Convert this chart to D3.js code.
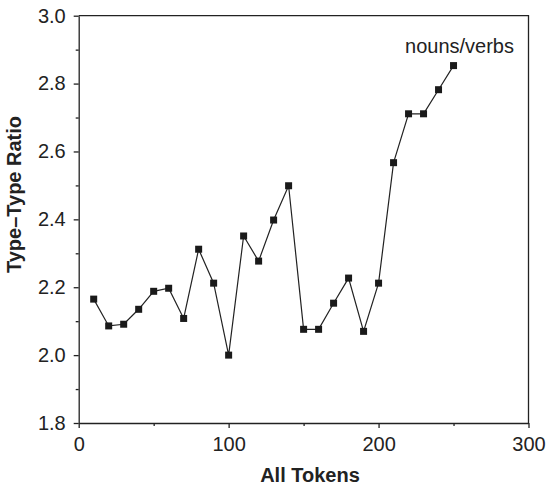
<!DOCTYPE html>
<html>
<head>
<meta charset="utf-8">
<script src="https://cdn.jsdelivr.net/npm/d3@7"></script>
<style>
  html, body { margin: 0; padding: 0; background: #fff; }
  svg { display: block; }
  text { font-family: "Liberation Sans", Arial, Helvetica, sans-serif; fill: #222; }
</style>
</head>
<body>
<svg id="chart" width="546" height="484"></svg>
<script>
// Token counts (x) and type–type ratio (y) for the nouns/verbs series
const tokens = [10, 20, 30, 40, 50, 60, 70, 80, 90, 100, 110, 120, 130, 140, 150,
                160, 170, 180, 190, 200, 210, 220, 230, 240, 250];
const ratios = [2.165, 2.086, 2.091, 2.135, 2.188, 2.197, 2.108, 2.312, 2.212, 2.000,
                2.351, 2.277, 2.398, 2.499, 2.076, 2.076, 2.153, 2.227, 2.070, 2.212,
                2.567, 2.711, 2.711, 2.782, 2.853];
const seriesLabel = "nouns/verbs";

const xMajorTicks = [0, 100, 200, 300];
const xMinorTicks = [50, 150, 250];
const yMajorTicks = [1.8, 2.0, 2.2, 2.4, 2.6, 2.8, 3.0];
const yMinorTicks = [1.9, 2.1, 2.3, 2.5, 2.7, 2.9];

const xTitle = "All Tokens";
const yTitle = "Type\u2013Type Ratio";

(function draw() {
  const svg = d3.select("#chart");
  const m = { left: 78.7, right: 528.5, top: 15.7, bottom: 423 };
  const ink = "#222";

  const x = d3.scaleLinear().domain([0, 300]).range([m.left, m.right]);
  const y = d3.scaleLinear().domain([1.8, 3.0]).range([m.bottom, m.top]);

  function styleAxis(g) {
    g.select(".domain").attr("stroke", ink).attr("stroke-width", 1.3);
    g.selectAll(".tick line").attr("stroke", ink).attr("stroke-width", 1.3);
    g.selectAll(".tick text")
      .attr("fill", ink)
      .style("font-size", "20px")
      .style("font-family", "'Liberation Sans', Arial, sans-serif");
  }

  // Minor ticks (no labels)
  svg.append("g")
    .attr("transform", `translate(0,${m.bottom})`)
    .call(d3.axisBottom(x).tickValues(xMinorTicks).tickSize(3).tickFormat(""))
    .call(g => g.select(".domain").remove())
    .call(styleAxis);
  svg.append("g")
    .attr("transform", `translate(${m.left},0)`)
    .call(d3.axisLeft(y).tickValues(yMinorTicks).tickSize(3).tickFormat(""))
    .call(g => g.select(".domain").remove())
    .call(styleAxis);

  // Major axes
  svg.append("g")
    .attr("transform", `translate(0,${m.bottom})`)
    .call(d3.axisBottom(x).tickValues(xMajorTicks).tickSize(5).tickSizeOuter(0)
          .tickPadding(9).tickFormat(d3.format("d")))
    .call(styleAxis);
  svg.append("g")
    .attr("transform", `translate(${m.left},0)`)
    .call(d3.axisLeft(y).tickValues(yMajorTicks).tickSize(5).tickSizeOuter(0)
          .tickPadding(8).tickFormat(d3.format(".1f")))
    .call(styleAxis);

  // Frame: top and right edges
  svg.append("path")
    .attr("d", `M${m.left},${m.top}H${m.right}V${m.bottom}`)
    .attr("fill", "none")
    .attr("stroke", ink)
    .attr("stroke-width", 1.3);

  // Series line
  const pts = tokens.map((t, i) => [t, ratios[i]]);
  svg.append("path")
    .datum(pts)
    .attr("fill", "none")
    .attr("stroke", ink)
    .attr("stroke-width", 1.2)
    .attr("d", d3.line().x(d => x(d[0])).y(d => y(d[1])));

  // Square markers
  const s = 7;
  svg.append("g").selectAll("rect")
    .data(pts)
    .join("rect")
    .attr("x", d => x(d[0]) - s / 2)
    .attr("y", d => y(d[1]) - s / 2)
    .attr("width", s)
    .attr("height", s)
    .attr("fill", "#1a1a1a");

  // Series label
  svg.append("text")
    .attr("x", 514)
    .attr("y", 53)
    .attr("text-anchor", "end")
    .style("font-size", "20px")
    .text(seriesLabel);

  // Axis titles
  svg.append("text")
    .attr("x", 310)
    .attr("y", 481.5)
    .attr("text-anchor", "middle")
    .style("font-size", "20px")
    .style("font-weight", "bold")
    .text(xTitle);

  svg.append("text")
    .attr("transform", "translate(21,194.5) rotate(-90)")
    .attr("text-anchor", "middle")
    .style("font-size", "20px")
    .style("font-weight", "bold")
    .text(yTitle);
})();
</script>
</body>
</html>
